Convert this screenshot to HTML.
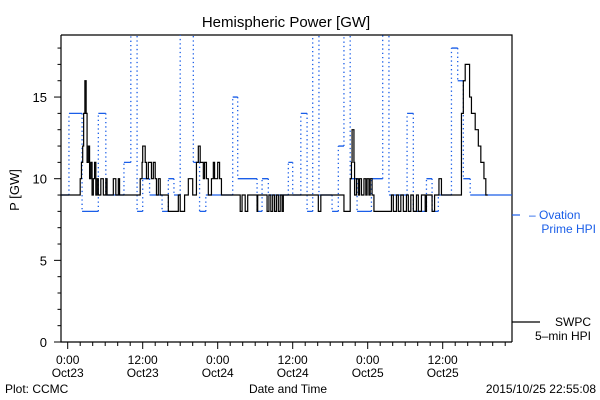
<!DOCTYPE html>
<html><head><meta charset="utf-8"><style>
body{margin:0;background:#fff;}
svg{display:block;font-family:"Liberation Sans",sans-serif;}
</style></head><body>
<svg id="chart" width="600" height="400" viewBox="0 0 600 400">
<defs><clipPath id="pc"><rect x="61" y="35" width="451" height="307"/></clipPath></defs>
<rect x="0" y="0" width="600" height="400" fill="#fff"/>
<text x="286" y="27" font-size="15" text-anchor="middle">Hemispheric Power [GW]</text>
<text x="19" y="190" font-size="13" text-anchor="middle" transform="rotate(-90 19 190)">P [GW]</text>
<text x="288" y="393" font-size="12" text-anchor="middle">Date and Time</text>
<text x="5" y="393" font-size="12">Plot: CCMC</text>
<text x="596" y="393" font-size="12" text-anchor="end">2015/10/25 22:55:08</text>
<g id="axes"></g>
<g id="series" clip-path="url(#pc)"></g>
<g>
<line x1="512" y1="215" x2="520" y2="215" stroke="#1a5ee8" stroke-width="1.2"/>
<text x="529" y="219" font-size="12" fill="#1a5ee8">– Ovation</text>
<text x="596" y="233" font-size="12" fill="#1a5ee8" text-anchor="end">Prime HPI</text>
<line x1="512" y1="322" x2="540" y2="322" stroke="#000" stroke-width="1.2"/>
<text x="591" y="326" font-size="12" text-anchor="end">SWPC</text>
<text x="591" y="340" font-size="12" text-anchor="end">5–min HPI</text>
</g>
</svg>
<script>
const yTicks=[0,5,10,15];
const xTickHours=[0,12,24,36,48,60];
const xTickTimes=["0:00","12:00","0:00","12:00","0:00","12:00"];
const xTickDates=["Oct23","Oct23","Oct24","Oct24","Oct25","Oct25"];
const ovationTimes=[-2,0.2,2.3,4.9,6.1,9.0,10.1,11.1,12.0,13.1,15.1,16.1,17.0,18.0,20.1,21.1,22.1,26.4,27.2,30.3,31.1,32.1,35.3,36.0,37.3,38.3,39.2,40.2,42.3,43.3,44.2,45.2,46.3,48.6,50.4,51.4,54.3,55.3,57.4,58.3,59.3,61.4,62.4,63.3,64.4,74];
const ovationValues=[9,14,8,14,9,11,19,8,10,9,8,10,9,19,11,8,9,15,10,8,10,9,11,9,14,8,19,9,8,12,19,10,8,10,19,9,14,8,10,8,9,18,16,10,9,9];
const swpcTimes=[-2,2.0,2.2,2.4,2.55,2.75,2.95,3.1,3.3,3.5,3.7,3.9,4.1,4.3,4.5,4.7,4.9,5.3,5.7,6.1,6.3,7.3,7.7,8.1,8.3,11.6,11.9,12.0,12.4,12.6,12.9,13.4,13.7,14.0,14.2,14.5,14.8,16.1,17.7,18.0,18.7,19.3,20.0,20.6,20.9,21.2,21.7,21.9,22.2,22.5,23.0,23.3,23.5,24.0,24.3,24.6,27.6,27.9,28.4,28.8,30.3,30.4,31.9,32.2,32.5,32.8,33.1,33.4,33.7,34.0,34.3,34.5,40.1,40.5,44.2,45.2,45.4,45.5,45.8,45.9,46.2,46.5,46.7,47.0,47.4,47.7,47.9,48.2,48.4,48.7,49.0,51.8,52.1,52.6,52.9,53.3,53.7,54.2,54.5,54.9,55.3,55.8,56.1,56.6,57.2,57.4,58.3,58.7,59.4,59.8,63.0,63.3,63.6,64.3,64.6,65.2,65.7,66.1,66.6,66.9,67.2];
const swpcValues=[9,10,11,12,14,16,14,11,12,10,11,9,10,11,9,10,9,10,9,10,9,10,9,10,9,10,11,12,11,10,11,10,11,10,9,10,9,8,9,8,9,10,9,11,12,11,10,11,10,9,10,11,10,11,10,9,8,9,8,9,8,9,8,9,8,9,8,9,8,9,8,9,8,9,8,10,11,13,11,9,10,9,10,9,10,9,10,9,10,9,8,9,8,9,8,9,8,9,8,9,8,9,8,9,8,9,8,9,10,9,14,16,17,15,14,13,12,11,10,9,9];
const NS="http://www.w3.org/2000/svg";
const X=h=>67.7+6.25*h;
const Y=v=>342-16.33*v;
const axes=document.getElementById('axes');
const series=document.getElementById('series');
function mk(tag,attrs,parent){const e=document.createElementNS(NS,tag);for(const k in attrs)e.setAttribute(k,attrs[k]);parent.appendChild(e);return e;}
let e;
e=mk('path',{d:'M61 35H512V342M61 35V342H512',fill:'none',stroke:'#000','stroke-width':1.2},axes);


for(let v=0;v<=18;v++){const major=v%5===0;
e=mk('line',{x1:61-(major?7:3.5),x2:61,y1:Y(v),y2:Y(v),stroke:'#000'},axes);

}
yTicks.forEach(v=>{e=mk('text',{x:47,y:Y(v)+5,'font-size':13,'text-anchor':'end'},axes);e.textContent=String(v);

});
for(let h=0;h<=70;h+=2){const major=h%12===0;
e=mk('line',{x1:X(h),x2:X(h),y1:342,y2:342+(major?7:4),stroke:'#000'},axes);

}
xTickHours.forEach((h,i)=>{
e=mk('text',{x:X(h),y:364,'font-size':12,'text-anchor':'middle'},axes);e.textContent=xTickTimes[i];


e=mk('text',{x:X(h),y:377,'font-size':12,'text-anchor':'middle'},axes);e.textContent=xTickDates[i];

});
// ovation: solid horizontals, dotted verticals
let dh='',dv='';
for(let i=0;i<ovationTimes.length-1;i++){
dh+='M'+X(ovationTimes[i])+' '+Y(ovationValues[i])+'H'+X(ovationTimes[i+1]);
if(i<ovationTimes.length-2&&ovationValues[i+1]!==ovationValues[i])dv+='M'+X(ovationTimes[i+1])+' '+Y(ovationValues[i])+'V'+Y(ovationValues[i+1]);}
e=mk('path',{d:dh,fill:'none',stroke:'#1a5ee8','stroke-width':1.3},series);


e=mk('path',{d:dv,fill:'none',stroke:'#1a5ee8','stroke-width':1.3,'stroke-dasharray':'1.3 3'},series);


// swpc step line
let ds='M'+X(swpcTimes[0])+' '+Y(swpcValues[0]);
for(let i=1;i<swpcTimes.length;i++){ds+='H'+X(swpcTimes[i])+'V'+Y(swpcValues[i]);}
e=mk('path',{d:ds,fill:'none',stroke:'#000','stroke-width':1.2},series);


</script>
</body></html>
